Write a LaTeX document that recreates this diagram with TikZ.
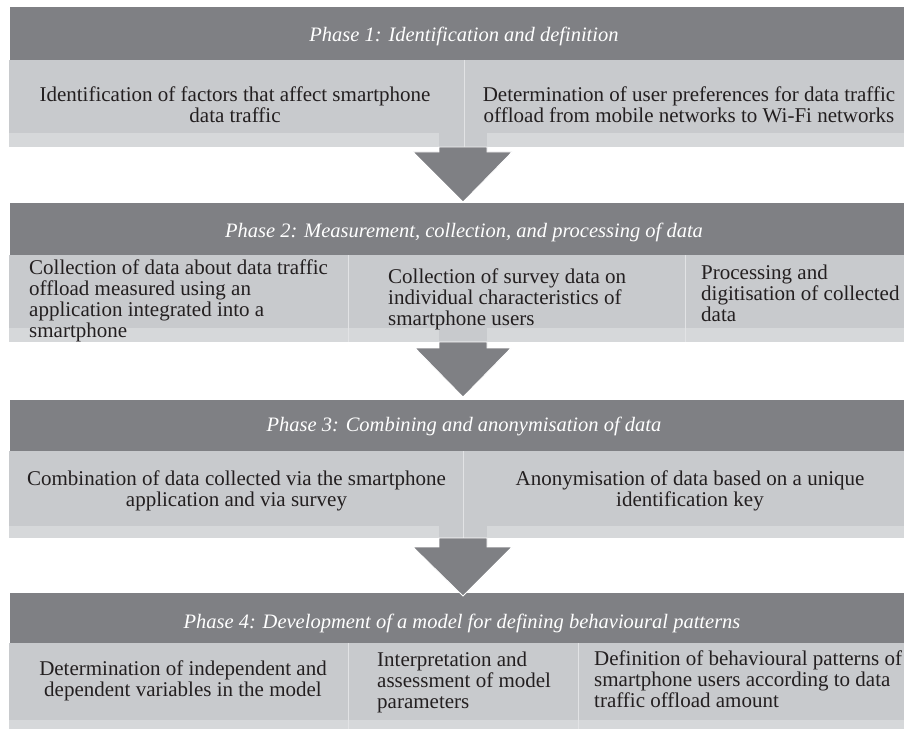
\documentclass[tikz,border=0pt]{standalone}
\usepackage{fontspec}
\setmainfont{Liberation Serif}
\definecolor{hdr}{HTML}{7F8084}
\definecolor{cbox}{HTML}{C8CACD}
\definecolor{stripc}{HTML}{D6D8DA}
\definecolor{divl}{HTML}{E2E3E5}
\definecolor{txt}{HTML}{231F20}
\begin{document}
\begin{tikzpicture}[x=1bp,y=-1bp,
  hdrbox/.style={fill=hdr,draw=white,line width=0.6bp},
  cbx/.style={fill=cbox},
  stripbox/.style={fill=stripc},
  divline/.style={draw=divl,line width=1bp},
  arrowshape/.style={fill=hdr,draw=white,line width=0.8bp,line join=miter},
  htext/.style={font={\fontsize{20.5bp}{21bp}\selectfont\itshape},text=white,inner sep=0pt,anchor=base},
  btext/.style={font={\fontsize{21bp}{21bp}\selectfont},text=txt,inner sep=0pt}
]
\useasboundingbox (0,0) rectangle (904,729);

% ---------- Phase 1 ----------
\filldraw[hdrbox] (9,6) rectangle (908,60);
\fill[cbx] (9,60) rectangle (908,147);
\fill[stripbox] (9,133) rectangle (439,147);
\fill[stripbox] (487,133) rectangle (908,147);
\draw[divline] (464,60) -- (464,147);

% ---------- Phase 2 ----------
\filldraw[hdrbox] (9,202) rectangle (908,255);
\fill[cbx] (9,255) rectangle (908,342);
\fill[stripbox] (9,328) rectangle (439,342);
\fill[stripbox] (487,328) rectangle (908,342);
\draw[divline] (348,255) -- (348,342);
\draw[divline] (685,255) -- (685,342);

% ---------- Phase 3 ----------
\filldraw[hdrbox] (9,399) rectangle (908,451);
\fill[cbx] (9,451) rectangle (908,538);
\fill[stripbox] (9,526) rectangle (439,538);
\fill[stripbox] (487,526) rectangle (908,538);
\draw[divline] (463,451) -- (463,538);

% ---------- Phase 4 ----------
\filldraw[hdrbox] (9,592) rectangle (908,643);
\fill[cbx] (9,643) rectangle (908,735);
\fill[stripbox] (9,720) rectangle (908,735);
\draw[divline] (348,643) -- (348,735);
\draw[divline] (578,643) -- (578,735);

% ---------- Arrows ----------
\filldraw[arrowshape] (439,147) -- (487,147) -- (487,152) -- (512,152) -- (463,202) -- (413,152) -- (439,152) -- cycle;
\filldraw[arrowshape] (439,342) -- (487,342) -- (487,348) -- (511,348) -- (463,397) -- (415,348) -- (439,348) -- cycle;
\filldraw[arrowshape] (439,538) -- (487,538) -- (487,547) -- (512,547) -- (463,596) -- (413,547) -- (439,547) -- cycle;

% ---------- Texts ----------
\node[htext] (h1) at (464,41.7) {Phase 1: Identification and definition};
\node[btext,align=center,anchor=north] (p1a) at (235,87) {Identification of factors that affect smartphone\\data traffic};
\node[btext,align=center,anchor=north] (p1b) at (689,87) {Determination of user preferences for data traffic\\offload from mobile networks to Wi-Fi networks};

\node[htext] (h2) at (464,237) {Phase 2: Measurement, collection, and processing of data};
\node[btext,align=left,anchor=north west] (p2a) at (29,259.5) {Collection of data about data traffic\\offload measured using an\\application integrated into a\\smartphone};
\node[btext,align=left,anchor=north west] (p2b) at (388,268.5) {Collection of survey data on\\individual characteristics of\\smartphone users};
\node[btext,align=left,anchor=north west] (p2c) at (701,264.5) {Processing and\\digitisation of collected\\data};

\node[htext] (h3) at (464,431.7) {Phase 3: Combining and anonymisation of data};
\node[btext,align=center,anchor=north] (p3a) at (236.5,470.5) {Combination of data collected via the smartphone\\application and via survey};
\node[btext,align=center,anchor=north] (p3b) at (690,470.5) {Anonymisation of data based on a unique\\identification key};

\node[htext] (h4) at (462,628) {Phase 4: Development of a model for defining behavioural patterns};
\node[btext,align=center,anchor=north] (p4a) at (183,660.5) {Determination of independent and\\dependent variables in the model};
\node[btext,align=left,anchor=north west] (p4b) at (377,651.5) {Interpretation and\\assessment of model\\parameters};
\node[btext,align=left,anchor=north west] (p4c) at (594,650.5) {Definition of behavioural patterns of\\smartphone users according to data\\traffic offload amount};
\end{tikzpicture}
\end{document}
